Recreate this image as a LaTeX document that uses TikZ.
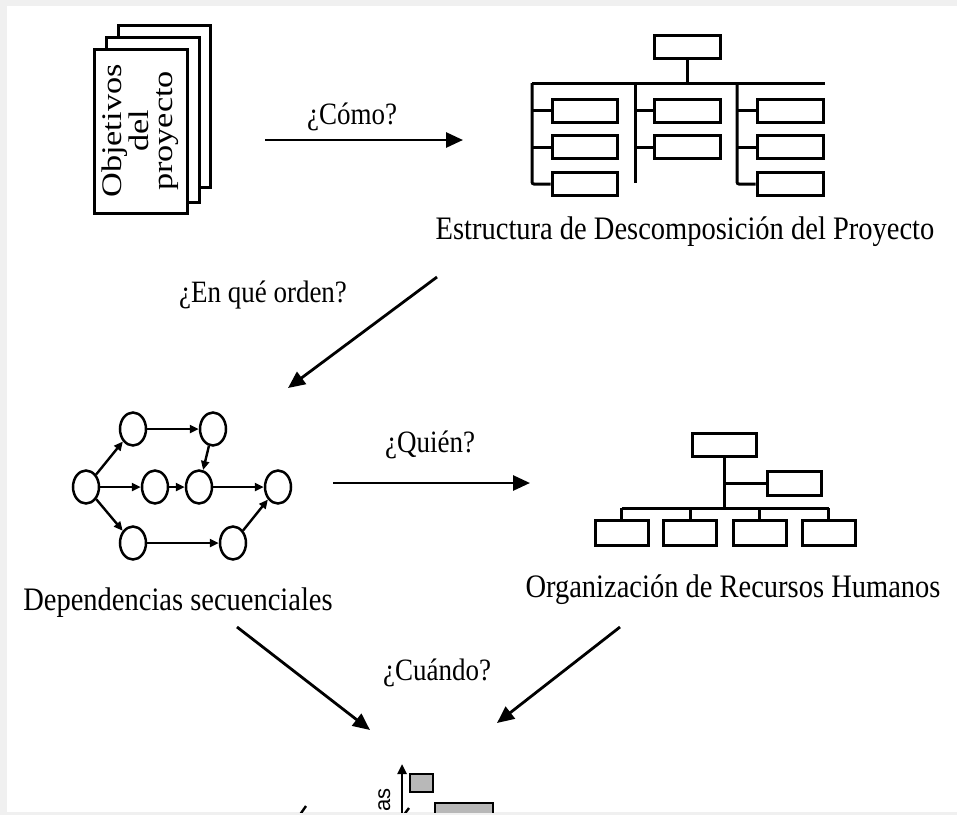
\documentclass[tikz,border=0pt]{standalone}
\usepackage{fontspec}
\setmainfont{Liberation Serif}
\newfontfamily\gsans{Liberation Sans}
\usetikzlibrary{arrows.meta,shapes.geometric}
\newcommand{\talltxt}[1]{\scalebox{1}[1.15]{#1}}
\begin{document}
\begin{tikzpicture}[x=1pt,y=-1pt,
  pg/.style={draw,line width=3pt,fill=white,inner sep=0pt},
  bx/.style={draw,line width=3pt,fill=white,inner sep=0pt},
  ln/.style={line width=3pt},
  bigarrow/.style={line width=2.8pt,-{Triangle[length=17pt,width=15pt]}},
  nd/.style={ellipse,draw,line width=2.5pt,minimum width=26pt,minimum height=33pt,inner sep=0pt},
  sarr/.style={line width=2.4pt,-{Triangle[length=9pt,width=8pt]}},
  captxt/.style={font=\fontsize{28.5}{30}\selectfont,inner sep=0pt},
  qst/.style={font=\fontsize{27}{29}\selectfont,inner sep=0pt}]
\useasboundingbox (0,0) rectangle (957,815);
\fill[black!6] (0,0) rectangle (957,815);
\fill[white] (7,6) rectangle (957,812);

% ---- stacked pages
\node[pg,minimum width=92pt,minimum height=162pt] (p3) at (164,106) {};
\node[pg,minimum width=93pt,minimum height=165pt] (p2) at (152.5,119.5) {};
\node[pg,minimum width=93pt,minimum height=164pt] (p1) at (140.5,131) {};
\node[rotate=90,align=center,font=\fontsize{27}{24}\selectfont,inner sep=0pt] (ptxt) at (p1.center)
  {\scalebox{1.27}[1.05]{Objetivos}\\\scalebox{1.27}[1.05]{del}\\\scalebox{1.27}[1.05]{proyecto}};

% ---- arrow 1
\coordinate (a1s) at (265,140);
\coordinate (a1e) at (463,140);
\draw[bigarrow] (a1s) -- (a1e);
\node[qst] (q1) at (352,117) {\talltxt{¿Cómo?}};

% ---- WBS
\node[bx,minimum width=66pt,minimum height=23pt] (w0) at (687,46.5) {};
\coordinate (wbar) at (687,83);
\coordinate (wl) at (532,83);
\coordinate (wm) at (635,83);
\coordinate (wr) at (737,83);
\coordinate (wbarR) at (825,83);
\coordinate (wmEnd) at (635,183);
\draw[ln] (w0.south) -- (wbar);
\draw[ln] (wl) -- (wbarR);
\foreach \n/\y in {1/110.5,2/147,3/184}{
  \node[bx,minimum width=65pt,minimum height=23pt] (l\n) at (584.5,\y) {};
  \node[bx,minimum width=66pt,minimum height=23pt] (r\n) at (790,\y) {};
}
\foreach \n/\y in {1/110.5,2/147}{
  \node[bx,minimum width=66pt,minimum height=23pt] (m\n) at (687,\y) {};
}
\draw[ln,rounded corners=2pt] (wl) |- (l3.west);
\draw[ln,rounded corners=2pt] (wr) |- (r3.west);
\draw[ln] (wm) -- (wmEnd);
\draw[ln] (wl |- l1.west) -- (l1.west);
\draw[ln] (wl |- l2.west) -- (l2.west);
\draw[ln] (wm |- m1.west) -- (m1.west);
\draw[ln] (wm |- m2.west) -- (m2.west);
\draw[ln] (wr |- r1.west) -- (r1.west);
\draw[ln] (wr |- r2.west) -- (r2.west);
\node[captxt] (wcap) at (685,232) {\talltxt{Estructura de Descomposición del Proyecto}};

% ---- arrow 2
\coordinate (a2s) at (437,277);
\coordinate (a2e) at (288,388);
\draw[bigarrow] (a2s) -- (a2e);
\node[qst] (q2) at (263,295) {\talltxt{¿En qué orden?}};

% ---- network
\node[nd] (nA) at (86,487) {};
\node[nd] (nB) at (133,429) {};
\node[nd] (nC) at (213,429) {};
\node[nd] (nD) at (155,487) {};
\node[nd] (nE) at (199,487) {};
\node[nd] (nF) at (278,487) {};
\node[nd] (nG) at (133,543) {};
\node[nd] (nH) at (233,543) {};
\draw[sarr] (nA) -- (nB);
\draw[sarr] (nA) -- (nD);
\draw[sarr] (nA) -- (nG);
\draw[sarr] (nB) -- (nC);
\draw[sarr] (nC) -- (nE);
\draw[sarr] (nD) -- (nE);
\draw[sarr] (nE) -- (nF);
\draw[sarr] (nG) -- (nH);
\draw[sarr] (nH) -- (nF);
\node[captxt] (ncap) at (178,603) {\talltxt{Dependencias secuenciales}};

% ---- arrow 3
\coordinate (a3s) at (333,483);
\coordinate (a3e) at (530,483);
\draw[bigarrow] (a3s) -- (a3e);
\node[qst] (q3) at (430,445) {\talltxt{¿Quién?}};

% ---- org chart
\node[bx,minimum width=64pt,minimum height=23pt] (o0) at (724,444.5) {};
\node[bx,minimum width=54pt,minimum height=24pt] (os) at (794,483) {};
\coordinate (obar) at (724,508);
\coordinate (oside) at (724,483);
\foreach \n/\x in {1/621.5,2/690,3/759.5,4/828.5}{
  \node[bx,minimum width=53pt,minimum height=25pt] (ob\n) at (\x,532.5) {};
}
\draw[ln] (o0.south) -- (obar);
\draw[ln] (oside) -- (os.west);
\draw[ln] (ob1.north |- obar) -- (ob4.north |- obar);
\foreach \n in {1,2,3,4}{ \draw[ln] (ob\n.north |- obar) -- (ob\n.north); }
\node[captxt] (ocap) at (733,590) {\talltxt{Organización de Recursos Humanos}};

% ---- arrows 4,5
\coordinate (a4s) at (237,627);
\coordinate (a4e) at (370,730);
\coordinate (a5s) at (620,627);
\coordinate (a5e) at (497,723);
\draw[bigarrow] (a4s) -- (a4e);
\draw[bigarrow] (a5s) -- (a5e);
\node[qst] (q4) at (437,673) {\talltxt{¿Cuándo?}};

% ---- gantt (cut off)
\begin{scope}
\clip (7,6) rectangle (957,812);
\coordinate (gax0) at (402,820);
\coordinate (gax1) at (402,764);
\draw[line width=2.4pt,-{Triangle[length=10pt,width=9pt]}] (gax0) -- (gax1);
\node[draw,line width=2.4pt,fill=black!28,minimum width=23pt,minimum height=18pt,inner sep=0pt] (g1) at (421.5,783) {};
\node[draw,line width=2.4pt,fill=black!28,minimum width=58pt,minimum height=20pt,inner sep=0pt] (g2) at (464,813) {};
\coordinate (s1a) at (299,816);
\coordinate (s1b) at (306,806);
\draw[line width=2.4pt] (s1a) -- (s1b);
\coordinate (s2a) at (403,816);
\coordinate (s2b) at (409,808);
\draw[line width=2.4pt] (s2a) -- (s2b);
\end{scope}
\node[rotate=90,font=\gsans\fontsize{22}{23}\selectfont,inner sep=0pt,anchor=base west] (gtxt) at (390,812) {as};
\end{tikzpicture}
\end{document}
